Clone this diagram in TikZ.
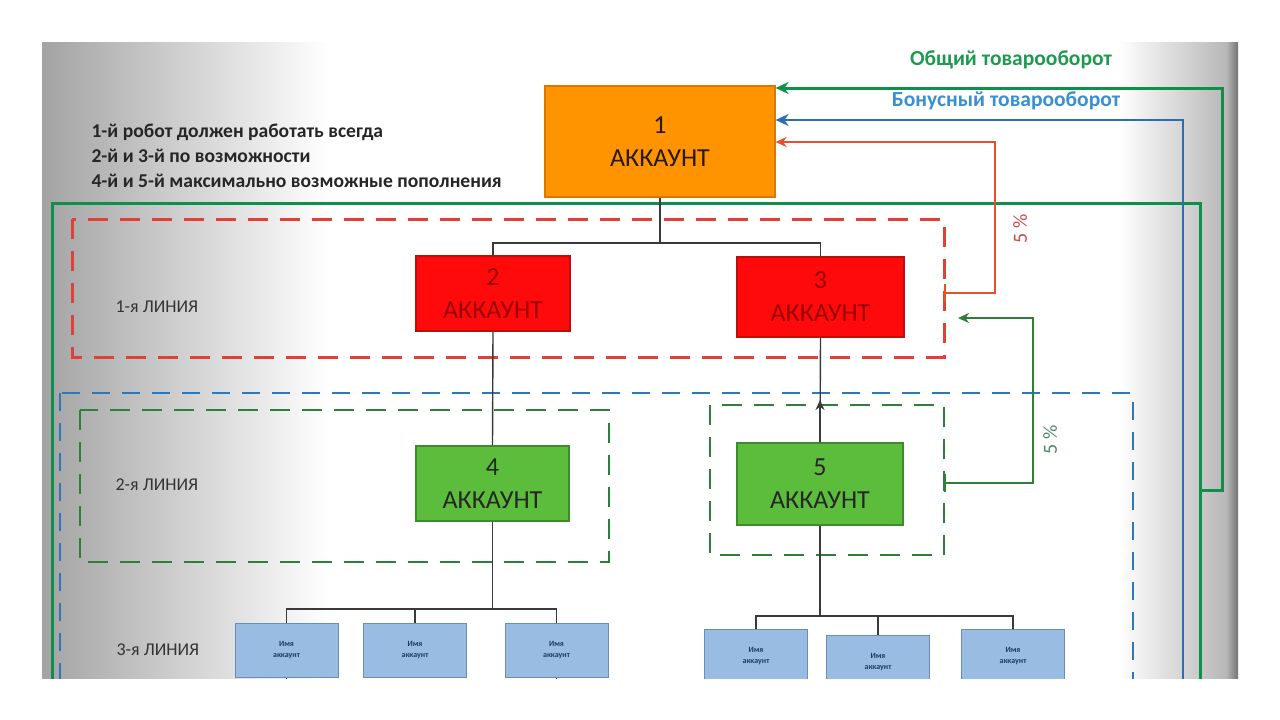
\documentclass[tikz,border=0pt]{standalone}
\usepackage{fontspec}
\setmainfont{Carlito}
\usetikzlibrary{arrows.meta}
\definecolor{cOrange}{HTML}{FF9400}
\definecolor{cOrangeB}{HTML}{D97A00}
\definecolor{cRed}{HTML}{FF0A0A}
\definecolor{cRedB}{HTML}{B81010}
\definecolor{cRedT}{HTML}{9A0000}
\definecolor{cGreen}{HTML}{5CBD3C}
\definecolor{cGreenB}{HTML}{3E8A2C}
\definecolor{cSmall}{HTML}{98BCE2}
\definecolor{cSmallB}{HTML}{6F8CAD}
\definecolor{cSmallT}{HTML}{1F3A6A}
\definecolor{lGreen}{HTML}{0E8F4A}
\definecolor{lBlue}{HTML}{2A6EB0}
\definecolor{lRed}{HTML}{E8502A}
\definecolor{dRed}{HTML}{E04038}
\definecolor{dBlue}{HTML}{2F78B8}
\definecolor{dGreen}{HTML}{2F7F3A}
\definecolor{tGreen}{HTML}{1E9A50}
\definecolor{tBlue}{HTML}{3A8FD0}
\definecolor{pRed}{HTML}{D04848}
\definecolor{pGreen}{HTML}{4E8A60}
\definecolor{treeC}{HTML}{3A3A3A}
\pgfdeclarehorizontalshading{vig}{100bp}{color(0bp)=(black!36); color(25bp)=(black!36); color(37bp)=(white); color(70bp)=(white); color(74.5bp)=(black!28); color(75bp)=(black!55); color(100bp)=(black!55)}
\begin{document}
\begin{tikzpicture}[x=1pt,y=-1pt,
  bigbox/.style={draw, line width=1.2pt, inner sep=0pt, align=center,
    font=\fontsize{26}{33}\selectfont},
  smallbox/.style={draw=cSmallB, fill=cSmall, line width=1pt, inner sep=0pt,
    minimum width=103pt, minimum height=54pt, align=center, text=cSmallT,
    font=\fontsize{8}{11}\selectfont\bfseries},
  tree/.style={draw=treeC, line width=1.4pt},
  reddash/.style={draw=dRed, line width=3pt, dash pattern=on 20pt off 12pt},
  bluedash/.style={draw=dBlue, line width=2.6pt, dash pattern=on 18pt off 12pt},
  greendash/.style={draw=dGreen, line width=2.6pt, dash pattern=on 20pt off 12pt},
  linelabel/.style={anchor=west, text=black!80, font=\fontsize{18}{20}\selectfont},
  tip/.style={-{Stealth[length=13pt,width=12pt]}},
  smalltip/.style={-{Stealth[length=10pt,width=9pt]}},
]
\useasboundingbox (0,0) rectangle (1280,720);
\fill[white] (0,0) rectangle (1280,720);
\shade[shading=vig] (42,42) rectangle (1238,678);

\begin{scope}
\clip (42,42) rectangle (1238,678);

% dashed frames
\draw[reddash] (72,219) rectangle (944,357);
\draw[bluedash] (60,393) rectangle (1133,740);
\draw[greendash] (80,410) rectangle (609,562);
\draw[greendash] (710,405) rectangle (944,555);

% green frame
\draw[lGreen, line width=3pt] (1200,740) -- (1200,203) -- (52,203) -- (52,740);

% boxes
\node[bigbox, draw=cOrangeB, fill=cOrange, text=black!80!brown, minimum width=230pt, minimum height=111pt] (b1) at (660,141.5) {1\\АККАУНТ};
\node[bigbox, draw=cRedB, fill=cRed, text=cRedT, minimum width=154pt, minimum height=75pt] (b2) at (493,293.5) {2\\АККАУНТ};
\node[bigbox, draw=cRedB, fill=cRed, text=cRedT, minimum width=167pt, minimum height=80pt] (b3) at (820.5,297) {3\\АККАУНТ};
\node[bigbox, draw=cGreenB, fill=cGreen, text=black!85, minimum width=153pt, minimum height=75pt] (b4) at (492.5,483.5) {4\\АККАУНТ};
\node[bigbox, draw=cGreenB, fill=cGreen, text=black!85, minimum width=166pt, minimum height=82pt] (b5) at (820,484) {5\\АККАУНТ};

\node[smallbox] (s1) at (286.5,650) {Имя\\аккаунт};
\node[smallbox] (s2) at (415,650) {Имя\\аккаунт};
\node[smallbox] (s3) at (556.5,650) {Имя\\аккаунт};
\node[smallbox] (s4) at (756,656) {Имя\\аккаунт};
\node[smallbox] (s5) at (878,662) {Имя\\аккаунт};
\node[smallbox] (s6) at (1013,656) {Имя\\аккаунт};

% tree connectors
\coordinate (j1) at (660,243);
\draw[tree] (b1.south) -- (j1);
\draw[tree] (b2.north) |- (j1) -| (b3.north);
\draw[tree] (b2.south) -- (b4.north);
\draw[tree] (b3.south) -- (b5.north);
\coordinate (m5) at (820,400);
\draw[tree, smalltip] (b5.north) -- (m5);
\coordinate (j4) at (492.5,609);
\draw[tree] (b4.south) -- (j4);
\draw[tree] (s1.north) |- (j4) -| (s3.north);
\draw[tree] (s2.north) -- (s2.north |- j4);
\coordinate (j5) at (820,616);
\draw[tree] (b5.south) -- (j5);
\draw[tree] (s4.north) |- (j5) -| (s6.north);
\draw[tree] (s5.north) -- (s5.north |- j5);
\coordinate (e1) at (286.5,700);
\coordinate (e3) at (556.5,700);
\draw[tree] (s1.south) -- (e1);
\draw[tree] (s3.south) -- (e3);

% turnover arrows
\coordinate (gj) at (1200,490);
\coordinate (gc) at (1222,88);
\draw[lGreen, line width=3pt, tip] (gj) -- (gj -| gc) -- (gc) -- (b1.east |- gc);
\coordinate (bb) at (1183,740);
\coordinate (bc) at (1183,120);
\draw[lBlue, line width=2.6pt, tip] (bb) -- (bc) -- (b1.east |- bc);
\coordinate (rs) at (944,293);
\coordinate (rc) at (995,142);
\draw[lRed, line width=2.2pt, {Bar[width=18pt]}-{Stealth[length=11pt,width=10pt]}] (rs) -- (rs -| rc) -- (rc) -- (b1.east |- rc);
\coordinate (gs) at (944,483);
\coordinate (gt) at (1033,318);
\coordinate (ge) at (958,318);
\draw[dGreen, line width=2.2pt, {Bar[width=18pt]}-{Stealth[length=11pt,width=10pt]}] (gs) -- (gs -| gt) -- (gt) -- (ge);
\end{scope}

% texts
\node[anchor=north west, align=left, text=black!85, font=\fontsize{19.6}{25}\selectfont\bfseries] (notes) at (88,120)
 {1-й робот должен работать всегда\\2-й и 3-й по возможности\\4-й и 5-й максимально возможные пополнения};
\node[text=tGreen, font=\fontsize{21.5}{24}\selectfont\bfseries] (tg) at (1011,60) {Общий товарооборот};
\node[text=tBlue, font=\fontsize{21.5}{24}\selectfont\bfseries] (tb) at (1006,101) {Бонусный товарооборот};
\node[rotate=90, text=pRed, font=\fontsize{20}{22}\selectfont] (p1) at (1020,229) {5 \%};
\node[rotate=90, text=pGreen, font=\fontsize{20}{22}\selectfont] (p2) at (1050,440) {5 \%};
\node[linelabel] (l1) at (112,307) {1-я ЛИНИЯ};
\node[linelabel] (l2) at (112,485) {2-я ЛИНИЯ};
\node[linelabel] (l3) at (113,650) {3-я ЛИНИЯ};
\end{tikzpicture}
\end{document}
